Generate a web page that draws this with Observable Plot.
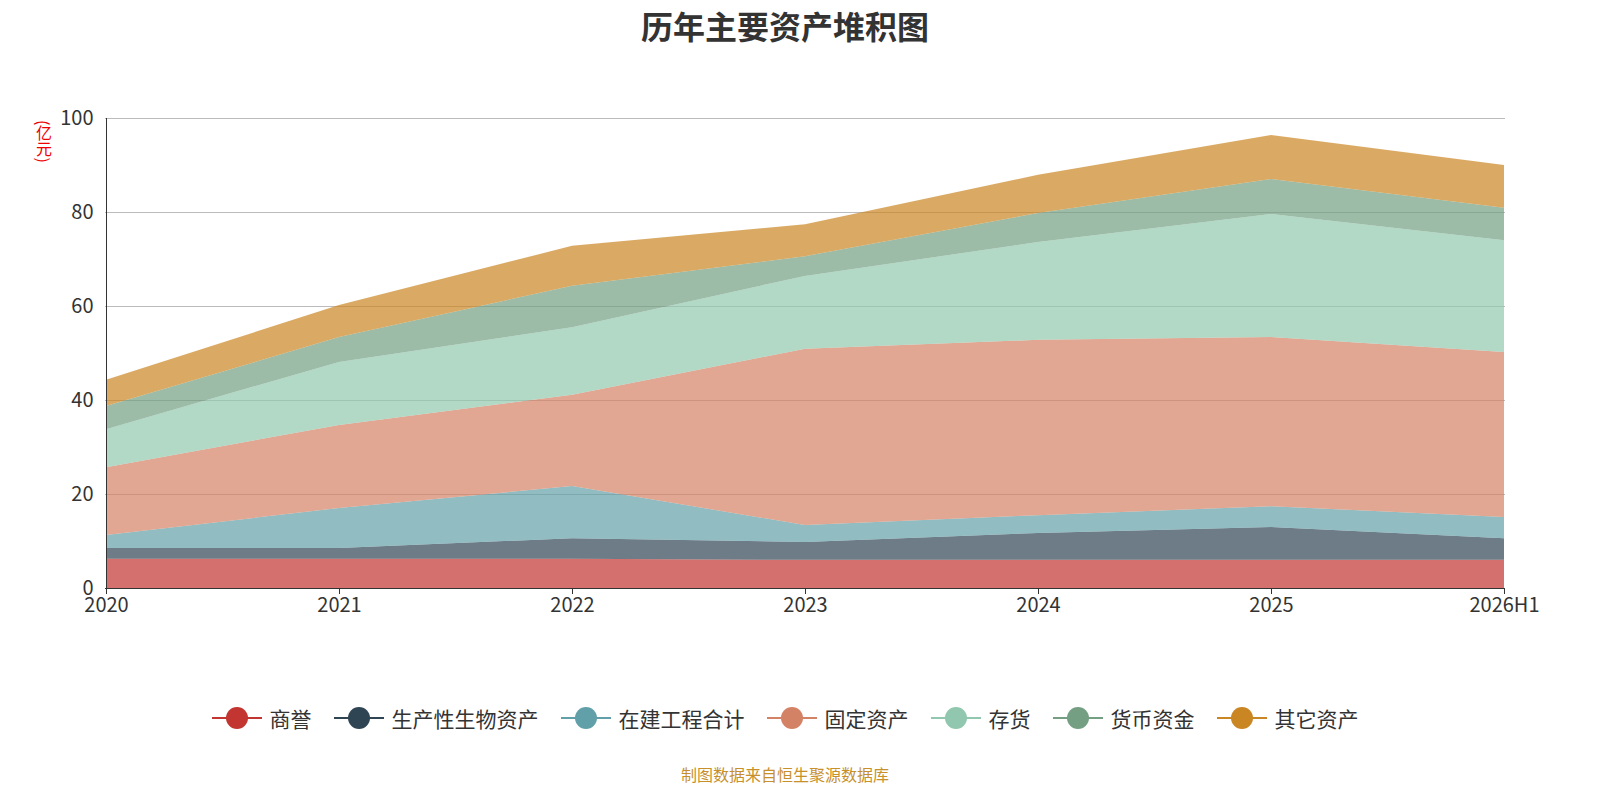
<!DOCTYPE html>
<html><head><meta charset="utf-8">
<script src="https://cdn.jsdelivr.net/npm/d3@7"></script>
<script src="https://cdn.jsdelivr.net/npm/@observablehq/plot@0.6"></script>
<style>
html,body{overflow:hidden}
body{margin:0;width:1600px;height:800px;position:relative;font-family:"Noto Sans CJK SC","Noto Sans",sans-serif;background:#fff}
#title{position:absolute;top:2px;left:0;width:1570px;text-align:center;font-size:32px;font-weight:bold;color:#333}
#unit{position:absolute;left:32px;top:120px;color:#e00;font-size:16px;writing-mode:vertical-rl}
#chart{position:absolute;left:0;top:0}
#chart svg{max-width:none}
#legend{position:absolute;top:703px;left:0;width:1570px;display:flex;justify-content:center;gap:22px;font-size:21px;color:#333}
#legend span{display:flex;align-items:center;gap:8px}
#cap{position:absolute;top:762px;left:0;width:1570px;text-align:center;font-size:16px;color:#c8902a}
</style></head><body>
<div id="chart"></div>
<div id="title">历年主要资产堆积图</div>
<div id="unit">(亿元)</div>
<div id="legend"></div>
<div id="cap">制图数据来自恒生聚源数据库</div>
<script>
const years=["2020","2021","2022","2023","2024","2025","2026H1"];
const series=["商誉","生产性生物资产","在建工程合计","固定资产","存货","货币资金","其它资产"];
const colors=["#c23531","#2f4554","#61a0a8","#d48265","#91c7ae","#749f83","#ca8622"];
const yTicks=[0,20,40,60,80,100];
const goodwill=[6.2,6.2,6.2,6.0,6.0,6.0,6.0];
const bio=[2.3,2.3,4.4,3.8,5.7,7.0,4.6];
const cip=[2.8,8.5,11.1,3.6,3.8,4.4,4.5];
const fixed=[14.4,17.7,19.4,37.5,37.3,36.0,35.1];
const inventory=[8.1,13.4,14.4,15.5,20.8,26.2,23.8];
const cash=[4.9,5.3,8.8,4.2,6.2,7.4,6.9];
const other=[5.6,6.8,8.5,6.8,8.1,9.4,9.1];
const vals=[goodwill,bio,cip,fixed,inventory,cash,other];
const data=[];
series.forEach((s,i)=>years.forEach((y,j)=>data.push({year:y,series:s,value:vals[i][j]})));
const plot=Plot.plot({
  width:1600,height:640,marginTop:118,marginBottom:52,marginLeft:105,marginRight:95,
  style:{fontSize:"20px",color:"#333",fontFamily:"Noto Sans CJK SC, sans-serif"},
  x:{type:"point",domain:years,padding:0,label:null},
  y:{domain:[0,100],label:null},
  color:{domain:series,range:colors},
  marks:[
    Plot.gridY(yTicks,{stroke:"#bbb",strokeOpacity:1}),
    Plot.areaY(data,{x:"year",y:"value",fill:"series",fillOpacity:0.7,order:series}),
    Plot.ruleX([years[0]],{stroke:"#333"}),
    Plot.ruleY([0],{stroke:"#333"}),
    Plot.axisX({tickSize:6,tickPadding:3,fontSize:20}),
    Plot.axisY(yTicks,{tickSize:0,tickPadding:12,fontSize:20})
  ]
});
document.getElementById("chart").appendChild(plot);
const lg=document.getElementById("legend");
series.forEach((s,i)=>{lg.insertAdjacentHTML("beforeend",`<span><svg width="50" height="24"><line x1="0" x2="50" y1="12" y2="12" stroke="${colors[i]}" stroke-width="2"/><circle cx="25" cy="12" r="11" fill="${colors[i]}"/></svg>${s}</span>`)});
</script></body></html>
